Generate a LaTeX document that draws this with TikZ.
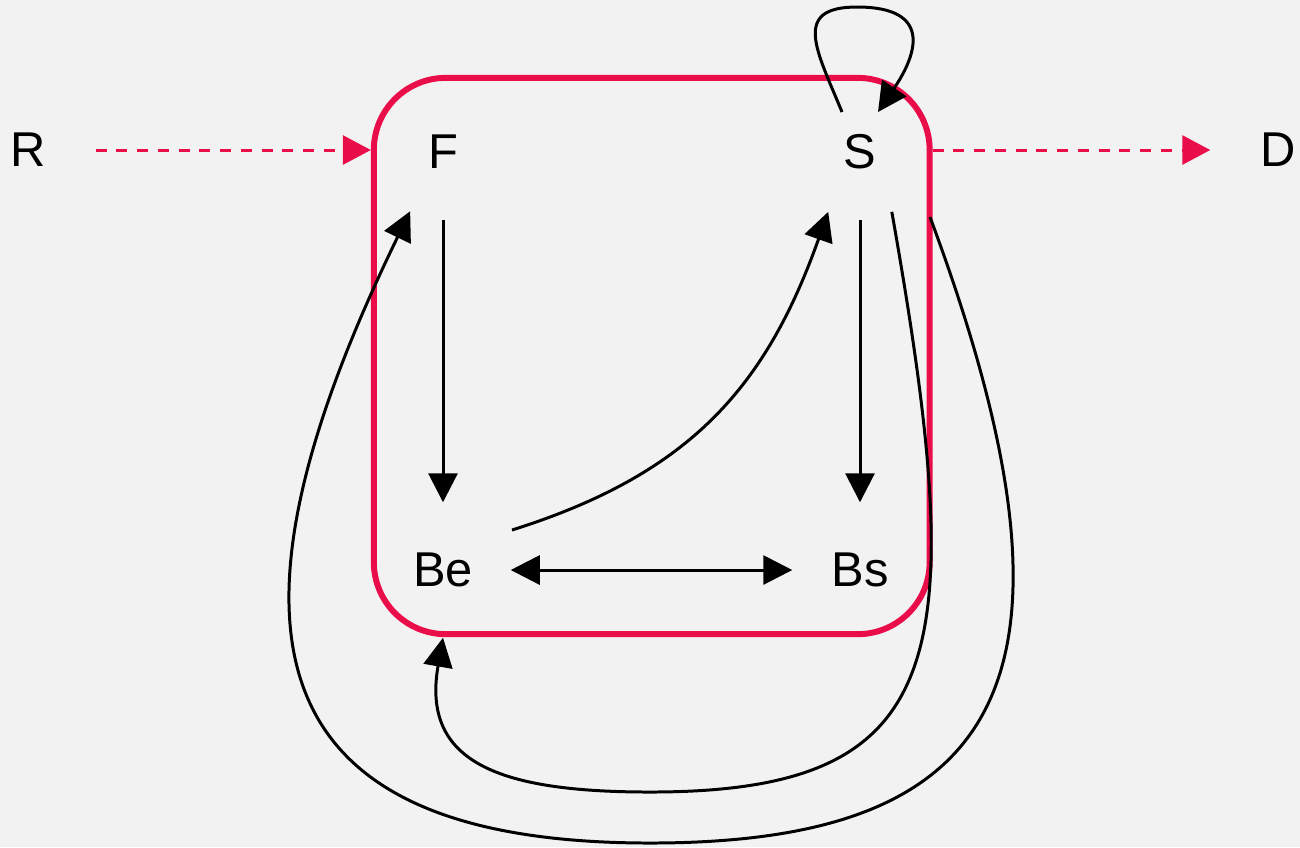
\documentclass[tikz,border=0pt]{standalone}
\usepackage{fontspec}
\setmainfont{Liberation Sans}
\usetikzlibrary{arrows.meta}

\definecolor{signalred}{RGB}{233,14,74}
\definecolor{canvas}{RGB}{242,242,242}

\begin{document}
\begin{tikzpicture}[x=0.01cm, y=-0.01cm,
  % States and the frame around the inner cycle
  state/.style={circle, minimum size=1.34cm, inner sep=0pt, font=\fontsize{13.9}{16}\selectfont},
  cluster/.style={rectangle, draw=signalred, line width=1.7pt, rounded corners=0.72cm, minimum width=5.555cm, minimum height=5.56cm},
  % Connector styles
  flow/.style={-{Triangle[length=0.29cm, width=0.29cm]}, line width=0.85pt, black},
  twoway/.style={{Triangle[length=0.29cm, width=0.29cm]}-{Triangle[length=0.29cm, width=0.29cm]}, line width=0.85pt, black},
  feed/.style={-{Triangle[length=0.28cm, width=0.29cm]}, signalred, line width=0.85pt, dash pattern=on 3.1pt off 2.8pt}
]

% Layer 1: canvas, fixes the bounding box
\useasboundingbox (0,0) rectangle (1300,847);
\fill[canvas] (0,0) rectangle (1300,847);

% Layer 2: red frame
\node[cluster] (core) at (651.75,356) {};

% Layer 3: states
\node[state] (R) at (28,150) {R};
\node[state] (F) at (443,152) {F};
\node[state] (S) at (860,152) {S};
\node[state] (D) at (1278,150) {D};
\node[state] (Be) at (443,570) {Be};
\node[state] (Bs) at (860,570) {Bs};

% Layer 4: entry and exit (dashed, red)
\draw[feed] (R) -- (R -| core.west);
\draw[feed] (core.east |- D) -- (D);

% Layer 5: straight transitions
\draw[flow] (F) -- (Be);
\draw[flow] (S) -- (Bs);
\draw[twoway] (Be) -- (Bs);

% Layer 6: curved transitions
\draw[flow] ([shift={(69,-40)}]Be.center) .. controls (690,474) and (766,387) .. (S.-118);
\draw[flow] ([shift={(-18,-40)}]S.center) .. controls (817,51) and (791,7) .. (857,7)
  .. controls (932,7) and (918,53) .. ([shift={(18,-40)}]S.center);
\draw[flow] (S.-62) .. controls (971,660) and (950,792) .. (650,792)
  .. controls (500,792) and (421,763) .. (Be.south);
\draw[flow] ([shift={(70,65)}]S.center) .. controls (1105,687) and (1000,843) .. (650,843)
  .. controls (270,843) and (197,649) .. (F.-119);

\end{tikzpicture}
\end{document}
